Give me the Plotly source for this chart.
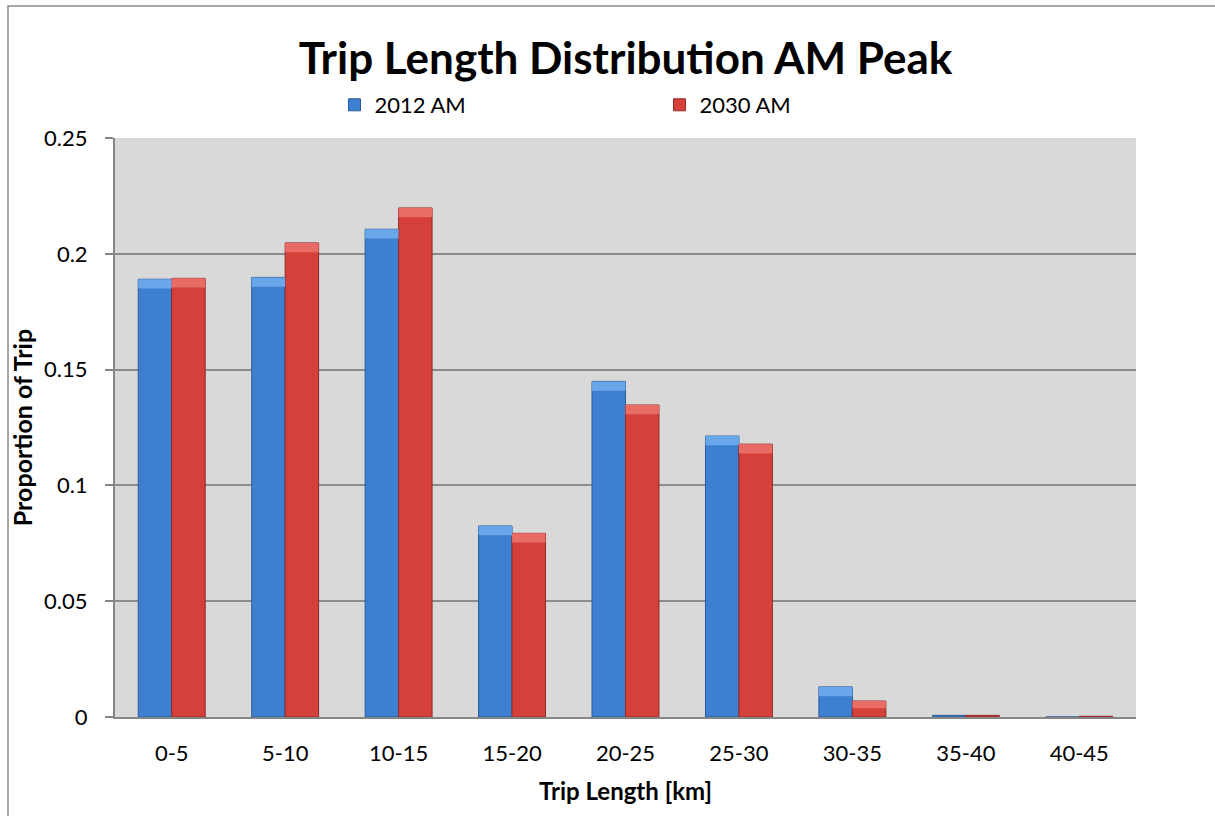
import plotly.graph_objects as go

categories = ["0-5", "5-10", "10-15", "15-20", "20-25", "25-30", "30-35", "35-40", "40-45"]
am_2012 = [0.1890, 0.1898, 0.2106, 0.0825, 0.1449, 0.1213, 0.0130, 0.0007, 0.0000]
am_2030 = [0.1894, 0.2047, 0.2198, 0.0793, 0.1347, 0.1178, 0.0069, 0.0007, 0.0003]
y_ticks = [0, 0.05, 0.1, 0.15, 0.2, 0.25]
y_tick_text = ["0", "0.05", "0.1", "0.15", "0.2", "0.25"]

FONT = "Lato, 'Open Sans', sans-serif"
CAP = 0.004  # height of the lighter bevel strip on top of each bar


def cap_parts(values):
    """Base and height of a highlight strip sitting at the top of each bar."""
    heights = [min(CAP, v * 0.45) if v > 0.002 else 0 for v in values]
    bases = [v - h for v, h in zip(values, heights)]
    return bases, heights


series = [
    ("2012 AM", am_2012, "#3d7fd1", "#2a5a9a", "#69a6ea"),
    ("2030 AM", am_2030, "#d6403b", "#8f2a27", "#e86b66"),
]

fig = go.Figure()
for i, (name, vals, color, edge, light) in enumerate(series):
    fig.add_trace(go.Bar(
        name=name, x=categories, y=vals, offsetgroup=str(i),
        marker=dict(color=color, line=dict(color=edge, width=1)),
    ))
for i, (name, vals, color, edge, light) in enumerate(series):
    bases, heights = cap_parts(vals)
    fig.add_trace(go.Bar(
        name=name, x=categories, y=heights, base=bases, offsetgroup=str(i),
        marker=dict(color=light, line=dict(width=0)),
        showlegend=False, hoverinfo="skip",
    ))

fig.update_layout(
    width=1215, height=816,
    margin=dict(l=115, r=79, t=138, b=99),
    paper_bgcolor="white",
    plot_bgcolor="#d9d9d9",
    barmode="group",
    bargap=0.41,
    bargroupgap=0,
    font=dict(family=FONT, size=22, color="black"),
    title=dict(
        text="<b>Trip Length Distribution AM Peak</b>",
        font=dict(family=FONT, size=44, color="black"),
        x=0.5, xanchor="center", xref="paper",
        y=0.928, yanchor="middle",
    ),
    legend=dict(
        orientation="h",
        x=0.215, xanchor="left",
        y=1.057, yanchor="middle",
        font=dict(family=FONT, size=22),
        entrywidth=280,
        bgcolor="rgba(0,0,0,0)",
        itemclick=False,
    ),
    showlegend=True,
    xaxis=dict(
        title=dict(text="<b>Trip Length [km]</b>", font=dict(family=FONT, size=24), standoff=18),
        showline=True, linecolor="#868686", linewidth=2,
        ticks="", tickfont=dict(size=22),
        ticklabelstandoff=16,
        showgrid=False,
    ),
    yaxis=dict(
        title=dict(text="<b>Proportion of Trip</b>", font=dict(family=FONT, size=25), standoff=4),
        range=[0, 0.25],
        tickvals=y_ticks, ticktext=y_tick_text,
        showline=True, linecolor="#868686", linewidth=2,
        ticks="outside", ticklen=8, tickcolor="#868686", tickwidth=2,
        ticklabelstandoff=13,
        showgrid=True, gridcolor="#8c8c8c", gridwidth=1.5,
        zeroline=False,
        tickfont=dict(size=22),
    ),
    shapes=[dict(
        type="rect", xref="paper", yref="paper",
        x0=-0.1048, x1=1.09, y0=-0.2, y1=1.228,
        line=dict(color="#8a8a8a", width=1.5),
        fillcolor="rgba(0,0,0,0)", layer="below",
    )],
)

fig.write_html("out.html")
